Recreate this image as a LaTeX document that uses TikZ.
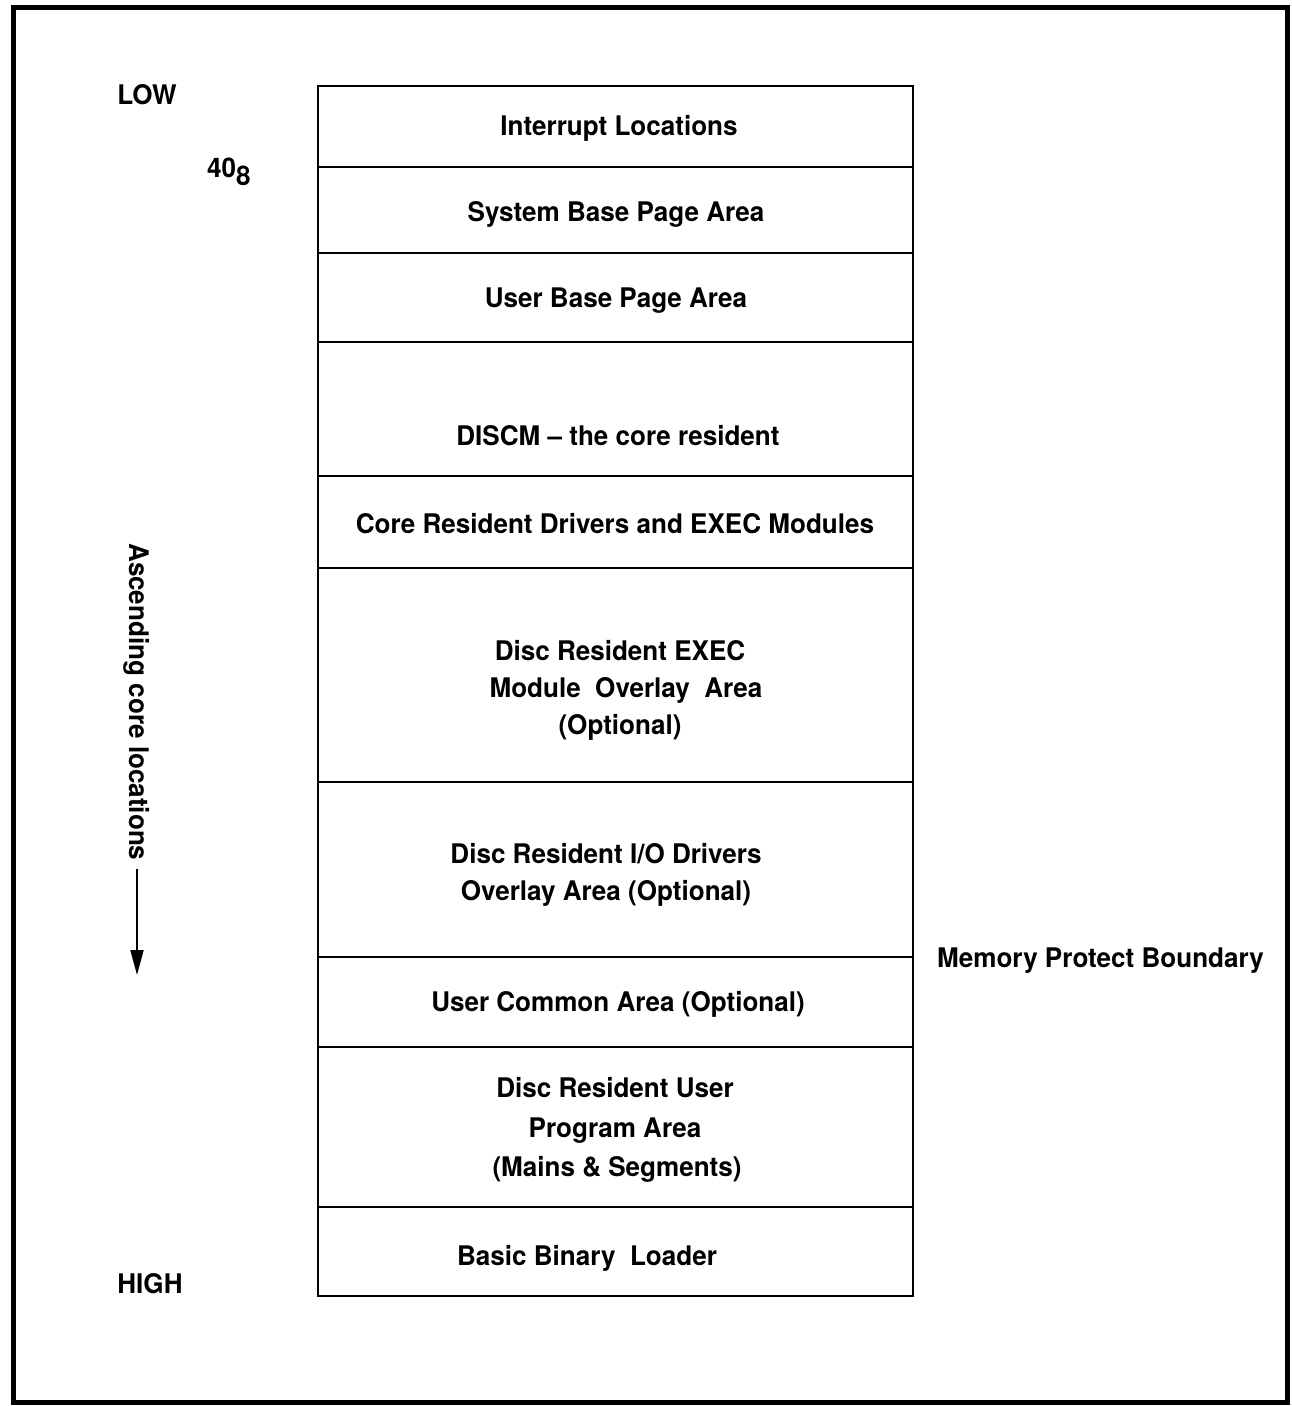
\documentclass[tikz,border=0pt]{standalone}
\usepackage{fontspec}
\setmainfont{TeX Gyre Heros}[FakeStretch=0.965]
\usetikzlibrary{arrows.meta}
\begin{document}
\begin{tikzpicture}[x=1pt,y=-1pt,
  lbl/.style={font=\bfseries\fontsize{27}{33}\selectfont, inner sep=0pt, anchor=base},
  boxline/.style={line width=2pt},
  frameline/.style={line width=5pt}]
\useasboundingbox (0,0) rectangle (1292,1406);
\draw[frameline] (13,7) rectangle (1287,1402);
\draw[boxline] (318,86) rectangle (913,1296);
\foreach \y in {167,253,342,476,568,782,957,1047,1207}
  \draw[boxline] (318,\y) -- (913,\y);
% band texts
\node[lbl] (intr) at (619,135) {Interrupt Locations};
\node[lbl] (sbp) at (616,221) {System Base Page Area};
\node[lbl] (ubp) at (616,307) {User Base Page Area};
\node[lbl] (discm) at (618,445) {DISCM -- the core resident};
\node[lbl] (crd) at (615,533) {Core Resident Drivers and EXEC Modules};
\node[lbl] (dre1) at (620,660) {Disc Resident EXEC};
\node[lbl] (dre2) at (626,697) {Module\ \ Overlay\ \ Area};
\node[lbl] (dre3) at (620,734) {(Optional)};
\node[lbl] (dri1) at (606,863) {Disc Resident I/O Drivers};
\node[lbl] (dri2) at (606,900) {Overlay Area (Optional)};
\node[lbl] (uca) at (618,1011) {User Common Area (Optional)};
\node[lbl] (dru1) at (615,1097) {Disc Resident User};
\node[lbl] (dru2) at (615,1137) {Program Area};
\node[lbl] (dru3) at (617,1176) {(Mains \& Segments)};
\node[lbl] (bbl) at (587,1265) {Basic Binary\ \ Loader};
% side labels
\node[lbl] (low) at (147,104) {LOW};
\node[lbl, anchor=base west] (forty) at (207,177) {40\raisebox{-8pt}{\fontsize{27}{27}\selectfont 8}};
\node[lbl] (high) at (150,1293) {HIGH};
\node[lbl, anchor=base west] (mpb) at (937,967) {Memory Protect Boundary};
\node[lbl, rotate=-90, anchor=west] (asc) at (137,543) {Ascending core locations};
\coordinate (tip) at (137,975);
\draw[line width=2pt, shorten <=8pt, -{Triangle[length=25pt,width=13pt]}] (asc.east) -- (tip);
\end{tikzpicture}
\end{document}
